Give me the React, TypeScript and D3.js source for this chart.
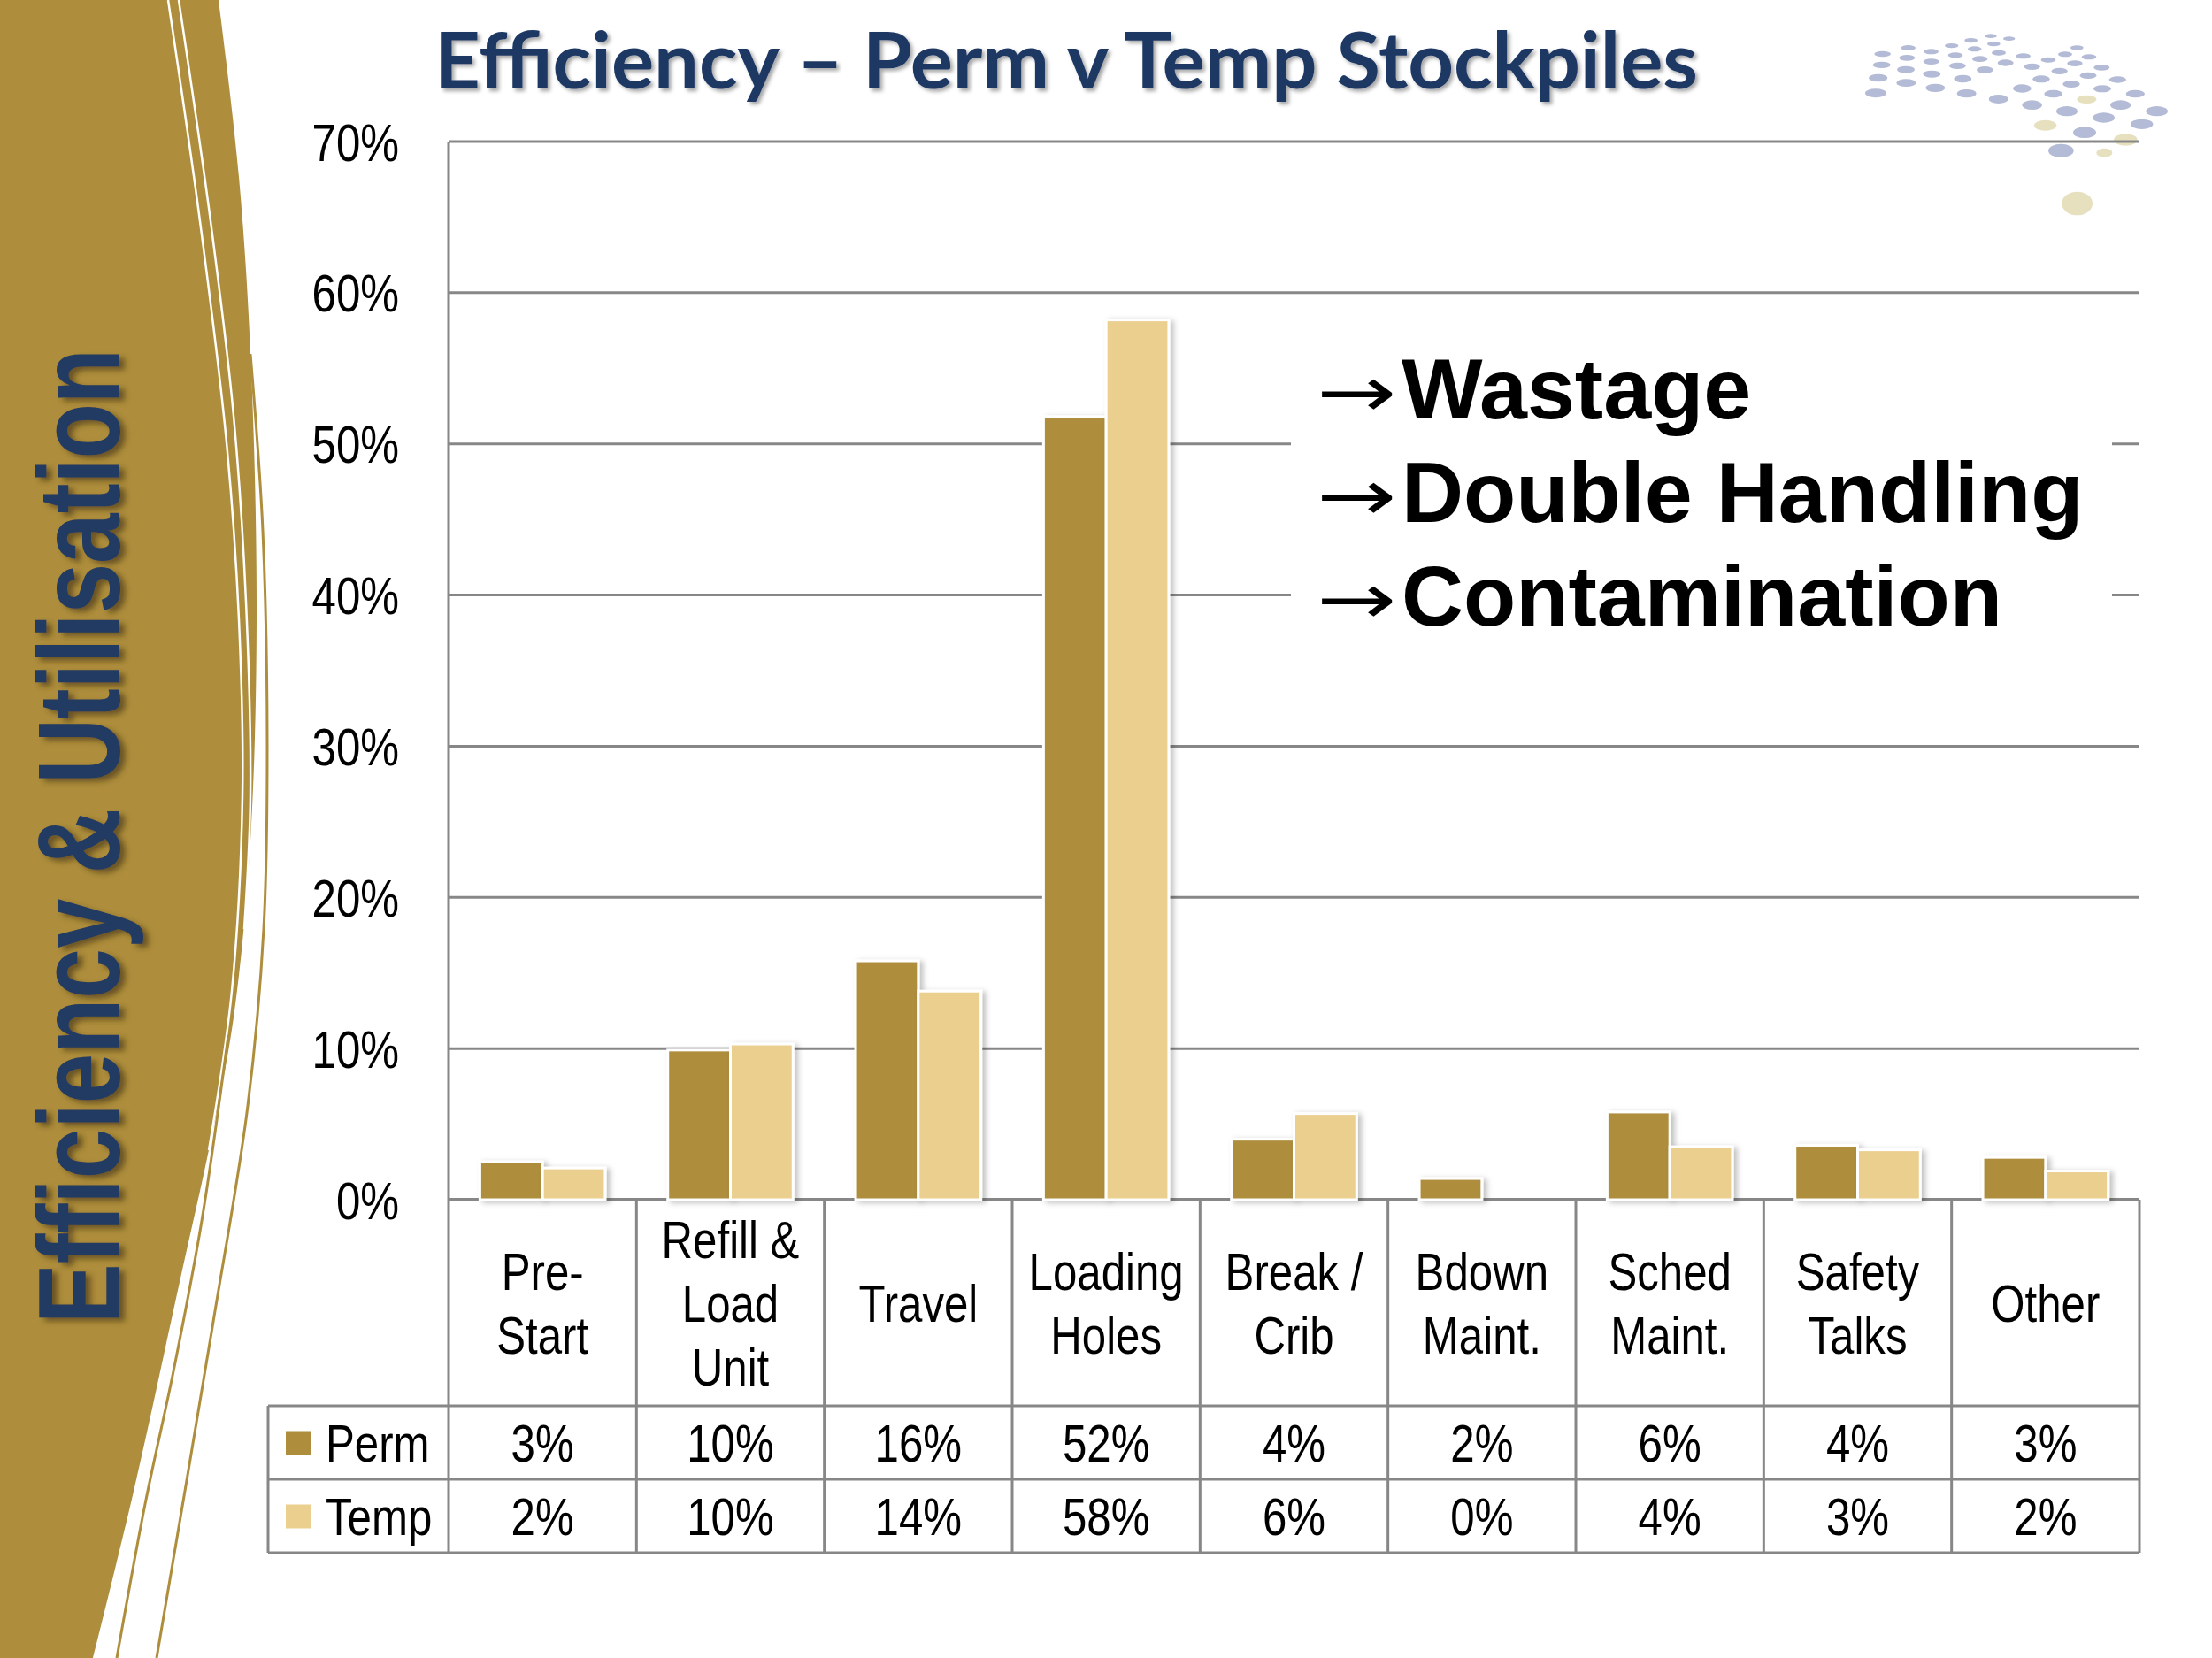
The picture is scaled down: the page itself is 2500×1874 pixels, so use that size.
import * as d3 from 'd3';

const categoryLines: string[][] = [
  ['Pre-', 'Start'],
  ['Refill &', 'Load', 'Unit'],
  ['Travel'],
  ['Loading', 'Holes'],
  ['Break /', 'Crib'],
  ['Bdown', 'Maint.'],
  ['Sched', 'Maint.'],
  ['Safety', 'Talks'],
  ['Other'],
];
const permValues = [0.025, 0.099, 0.158, 0.518, 0.04, 0.014, 0.058, 0.036, 0.028];
const tempValues = [0.021, 0.103, 0.138, 0.582, 0.057, 0, 0.035, 0.033, 0.019];
const permLabels = ['3%', '10%', '16%', '52%', '4%', '2%', '6%', '4%', '3%'];
const tempLabels = ['2%', '10%', '14%', '58%', '6%', '0%', '4%', '3%', '2%'];
const yTicks = [0, 0.1, 0.2, 0.3, 0.4, 0.5, 0.6, 0.7];
const bullets = ['Wastage', 'Double Handling', 'Contamination'];

const GOLD = '#AE8E3C';
const SAND = '#EBCF8E';
const NAVY = '#1F3864';
const GRID = '#878787';
const SANS = "'Liberation Sans', Arial, sans-serif";
const SQUEEZE = 0.82; // no Arial Narrow here, so squash Liberation Sans

const series = [
  { key: 'Perm', values: permValues, labels: permLabels, color: GOLD },
  { key: 'Temp', values: tempValues, labels: tempLabels, color: SAND },
];

// decoration dots, top right (x, y, rx, ry, beige?) in 1/3 px around (2050, 0)
const dotSpots: [number, number, number, number, number][] = [
  [233, 183, 28, 10, 0], [320, 162, 25, 9, 0], [398, 175, 25, 9, 0], [467, 155, 23, 8, 0],
  [533, 137, 22, 8, 0], [600, 122, 20, 7, 0], [662, 131, 20, 7, 0],
  [230, 220, 30, 11, 0], [316, 196, 27, 10, 0], [398, 209, 27, 10, 0], [480, 187, 25, 9, 0],
  [545, 166, 23, 9, 0], [610, 149, 22, 8, 0],
  [218, 264, 32, 13, 0], [312, 236, 30, 12, 0], [400, 251, 30, 12, 0], [487, 223, 28, 11, 0],
  [563, 200, 26, 10, 0], [627, 179, 24, 9, 0], [710, 190, 25, 9, 0], [795, 203, 25, 9, 0],
  [852, 184, 24, 9, 0], [892, 162, 22, 8, 0], [933, 193, 25, 9, 0], [976, 229, 27, 10, 0],
  [210, 316, 36, 15, 0], [313, 281, 33, 13, 0], [412, 298, 33, 14, 0], [505, 267, 30, 13, 0],
  [580, 237, 28, 12, 0], [650, 213, 27, 11, 0], [740, 226, 27, 11, 0], [833, 241, 27, 11, 0],
  [885, 215, 26, 10, 0], [930, 256, 28, 11, 0], [978, 301, 30, 12, 0], [1030, 270, 29, 11, 0],
  [1090, 318, 32, 13, 0], [518, 317, 33, 14, 0], [626, 336, 33, 15, 0], [706, 300, 31, 14, 0],
  [771, 268, 29, 12, 0], [812, 318, 31, 13, 0], [873, 285, 29, 12, 0], [925, 337, 33, 14, 1],
  [1040, 356, 35, 16, 0], [1163, 377, 37, 17, 0], [740, 356, 34, 16, 0], [858, 377, 36, 17, 0],
  [983, 399, 37, 17, 0], [1112, 421, 38, 17, 0], [785, 425, 38, 18, 1], [918, 449, 39, 19, 0],
  [1057, 474, 40, 20, 1], [838, 511, 43, 23, 0], [985, 518, 27, 15, 1], [893, 690, 52, 40, 1],
];

const W = 2500;
const H = 1874;
const plotLeft = 507;
const plotRight = 2418;
const plotTop = 160;
const plotBottom = 1356;
const tableLeft = 303;
const rowEdges = [1356, 1589, 1672, 1755];
const lineGap = 72;

function Narrow({ x, y, anchor = 'start', lines }: { x: number; y: number; anchor?: string; lines: string[] }) {
  return (
    <text
      transform={`translate(${x},${y}) scale(${SQUEEZE},1)`}
      textAnchor={anchor}
      fontFamily={SANS}
      fontSize={60}
      fill="#000"
    >
      {lines.map((ln, j) => (
        <tspan key={j} x={0} y={(j - (lines.length - 1) / 2) * lineGap} dy="0.36em">
          {ln}
        </tspan>
      ))}
    </text>
  );
}

export default function App() {
  const x = d3.scaleBand<number>().domain(d3.range(categoryLines.length)).range([plotLeft, plotRight]).padding(0);
  const xInner = d3
    .scaleBand<string>()
    .domain(series.map(s => s.key))
    .range([0, x.bandwidth()])
    .paddingInner(0)
    .paddingOuter(0.5);
  const y = d3.scaleLinear().domain([0, 0.7]).range([plotBottom, plotTop]);

  const curve = d3.line().curve(d3.curveCatmullRom);
  const edge: [number, number][] = [
    [247, 0], [270, 200], [284, 420], [290, 700], [283, 950], [264, 1150],
    [238, 1290], [205, 1440], [150, 1690], [105, 1874],
  ];
  const bannerPath = `M0,0L${curve(edge)!.slice(1)}L0,${H}Z`;
  const whiteA = curve([[190, 0], [226, 250], [256, 500], [270, 700], [274, 900], [262, 1120], [236, 1300]]);
  const whiteB = curve([[202, 0], [238, 250], [264, 470], [278, 680], [283, 900], [276, 1050]]);
  const goldA = curve([[283, 400], [297, 600], [302, 840], [298, 1050], [280, 1250], [240, 1500], [177, 1874]]);
  const goldB = curve([[258, 1170], [228, 1380], [196, 1550], [164, 1700], [132, 1874]]);

  return (
    <svg
      width={W}
      height={H}
      viewBox={`0 0 ${W} ${H}`}
      style={{ position: 'absolute', left: 0, top: 0, display: 'block', background: '#fff' }}
    >
      <defs>
        <filter id="titleShadow" x="-5%" y="-20%" width="110%" height="150%">
          <feDropShadow dx="3" dy="3" stdDeviation="2" floodColor="#000" floodOpacity="0.35" />
        </filter>
        <filter id="sideShadow" x="-20%" y="-5%" width="150%" height="110%">
          <feDropShadow dx="6" dy="4" stdDeviation="3" floodColor="#3a2c08" floodOpacity="0.6" />
        </filter>
        <filter id="barShadow" x="-30%" y="-10%" width="160%" height="120%">
          <feDropShadow dx="4" dy="2" stdDeviation="3" floodColor="#000" floodOpacity="0.25" />
        </filter>
      </defs>

      {/* left banner */}
      <path d={bannerPath} fill={GOLD} />
      <path d={whiteA ?? ''} fill="none" stroke="#fff" strokeWidth={2.5} />
      <path d={whiteB ?? ''} fill="none" stroke="#fff" strokeWidth={2.5} />
      <path d={goldA ?? ''} fill="none" stroke={GOLD} strokeWidth={3} />
      <path d={goldB ?? ''} fill="none" stroke={GOLD} strokeWidth={3} />
      <g filter="url(#sideShadow)">
        <text
          transform="translate(135,1496) rotate(-90)"
          fontFamily={SANS}
          fontWeight={700}
          fontSize={132}
          fill="#223A62"
          textLength={1102}
          lengthAdjust="spacingAndGlyphs"
        >
          Efficiency &amp; Utilisation
        </text>
      </g>

      {/* dots */}
      <g>
        {dotSpots.map(([cx, cy, rx, ry, beige], i) => (
          <ellipse
            key={i}
            cx={2050 + cx / 3}
            cy={cy / 3}
            rx={rx / 3}
            ry={ry / 3}
            fill={beige ? '#E6E0BE' : '#B3BBD6'}
          />
        ))}
      </g>

      {/* title */}
      <text
        x={491}
        y={100}
        fontFamily="Lato, 'Open Sans', sans-serif"
        fontWeight={700}
        fontSize={88}
        fill={NAVY}
        textLength={1428}
        lengthAdjust="spacingAndGlyphs"
        filter="url(#titleShadow)"
      >
        Efficiency – Perm v Temp Stockpiles
      </text>

      {/* gridlines */}
      {yTicks.map(t => (
        <line key={t} x1={plotLeft} x2={plotRight} y1={y(t)} y2={y(t)} stroke={GRID} strokeWidth={t === 0 ? 4 : 3} />
      ))}
      {yTicks.map(t => (
        <Narrow key={`l${t}`} x={451} y={y(t)} anchor="end" lines={[d3.format('.0%')(t)]} />
      ))}

      {/* bars */}
      {series.map(s => (
        <g key={s.key} filter="url(#barShadow)">
          {s.values.map((v, i) =>
            v > 0 ? (
              <rect
                key={i}
                x={x(i)! + xInner(s.key)!}
                y={y(v)}
                width={xInner.bandwidth()}
                height={y(0) - y(v)}
                fill={s.color}
                stroke="#fff"
                strokeWidth={3}
              />
            ) : null
          )}
        </g>
      ))}

      {/* annotation box */}
      <rect x={1459} y={370} width={928} height={380} fill="#fff" />
      {bullets.map((b, i) => {
        const by = 473 + i * 117;
        return (
          <g key={b}>
            <text
              transform={`translate(1488,${by - 2}) scale(1.35,1)`}
              fontFamily="'DejaVu Sans', sans-serif"
              fontWeight={400}
              fontSize={80}
              fill="#000"
            >
              →
            </text>
            <text x={1584} y={by} fontFamily={SANS} fontWeight={700} fontSize={97} fill="#000">
              {b}
            </text>
          </g>
        );
      })}

      {/* table */}
      <g stroke={GRID} strokeWidth={3}>
        <line x1={plotLeft} x2={plotLeft} y1={plotTop} y2={rowEdges[3]} />
        <line x1={tableLeft} x2={plotRight} y1={rowEdges[1]} y2={rowEdges[1]} />
        <line x1={tableLeft} x2={plotRight} y1={rowEdges[2]} y2={rowEdges[2]} />
        <line x1={tableLeft} x2={plotRight} y1={rowEdges[3]} y2={rowEdges[3]} />
        <line x1={tableLeft} x2={tableLeft} y1={rowEdges[1]} y2={rowEdges[3]} />
        {categoryLines.map((_, i) => (
          <line key={i} x1={x(i)! + x.bandwidth()} x2={x(i)! + x.bandwidth()} y1={rowEdges[0]} y2={rowEdges[3]} />
        ))}
      </g>
      {categoryLines.map((lines, i) => (
        <Narrow
          key={i}
          x={x(i)! + x.bandwidth() / 2}
          y={(rowEdges[0] + rowEdges[1]) / 2}
          anchor="middle"
          lines={lines}
        />
      ))}
      {series.map((s, r) => {
        const cy = (rowEdges[r + 1] + rowEdges[r + 2]) / 2;
        return (
          <g key={s.key}>
            <rect x={323} y={cy - 13} width={28} height={27} fill={s.color} />
            <Narrow x={368} y={cy} lines={[s.key]} />
            {s.labels.map((lab, i) => (
              <Narrow key={i} x={x(i)! + x.bandwidth() / 2} y={cy} anchor="middle" lines={[lab]} />
            ))}
          </g>
        );
      })}
    </svg>
  );
}
